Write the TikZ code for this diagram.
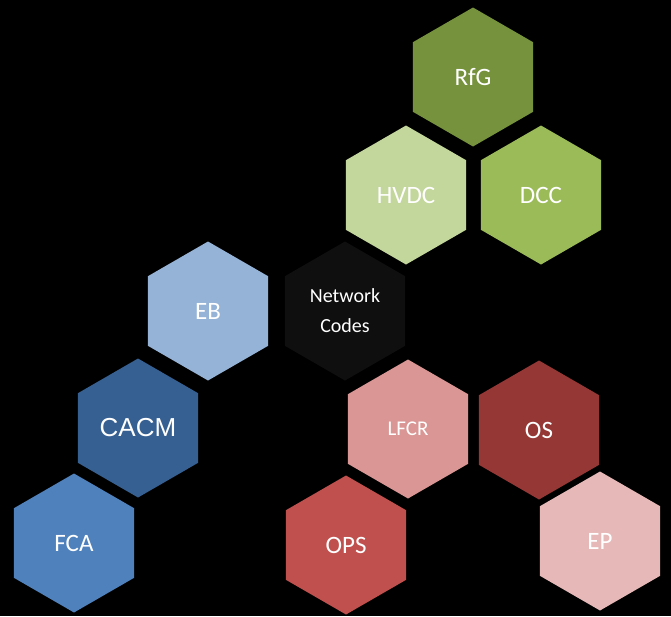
\documentclass[tikz,border=0pt]{standalone}
\usepackage{fontspec}
\setmainfont{Carlito}
\newfontfamily\arialfont{Liberation Sans}
\usetikzlibrary{shapes.geometric}

\definecolor{rfgcol}{HTML}{76923C}
\definecolor{hvdccol}{HTML}{C3D69B}
\definecolor{dcccol}{HTML}{9BBB59}
\definecolor{nccol}{HTML}{0F0F0F}
\definecolor{ebcol}{HTML}{95B3D7}
\definecolor{cacmcol}{HTML}{366092}
\definecolor{fcacol}{HTML}{4F81BD}
\definecolor{lfcrcol}{HTML}{D99694}
\definecolor{oscol}{HTML}{953735}
\definecolor{opscol}{HTML}{C0504D}
\definecolor{epcol}{HTML}{E6B9B8}

\tikzset{
  hexcell/.style={regular polygon, regular polygon sides=6, shape border rotate=30,
    minimum size=139pt, inner sep=0pt, outer sep=0pt, text=white,
    font=\fontsize{25}{30}\selectfont, align=center}
}

\begin{document}
\begin{tikzpicture}[x=1pt, y=-1pt]

\fill [black] (0,0) rectangle (671,616);

\node [hexcell, fill=rfgcol] (rfg) at (473,77) {RfG};
\node [hexcell, fill=hvdccol] (hvdc) at (406,195) {HVDC};
\node [hexcell, fill=dcccol] (dcc) at (541,195) {DCC};

\node [hexcell, fill=nccol, font=\fontsize{20}{30}\selectfont] (nc) at (345,311) {Network\\Codes};
\node [hexcell, fill=ebcol] (eb) at (208,311) {EB};
\node [hexcell, fill=cacmcol, font=\arialfont\fontsize{26}{30}\selectfont] (cacm) at (138,428) {CACM};
\node [hexcell, fill=fcacol] (fca) at (74,543) {FCA};

\node [hexcell, fill=lfcrcol, font=\fontsize{21}{30}\selectfont] (lfcr) at (408,429) {LFCR};
\node [hexcell, fill=oscol] (os) at (539,430) {OS};
\node [hexcell, fill=opscol] (ops) at (346,545) {OPS};
\node [hexcell, fill=epcol] (ep) at (600,541) {EP};

\end{tikzpicture}
\end{document}
